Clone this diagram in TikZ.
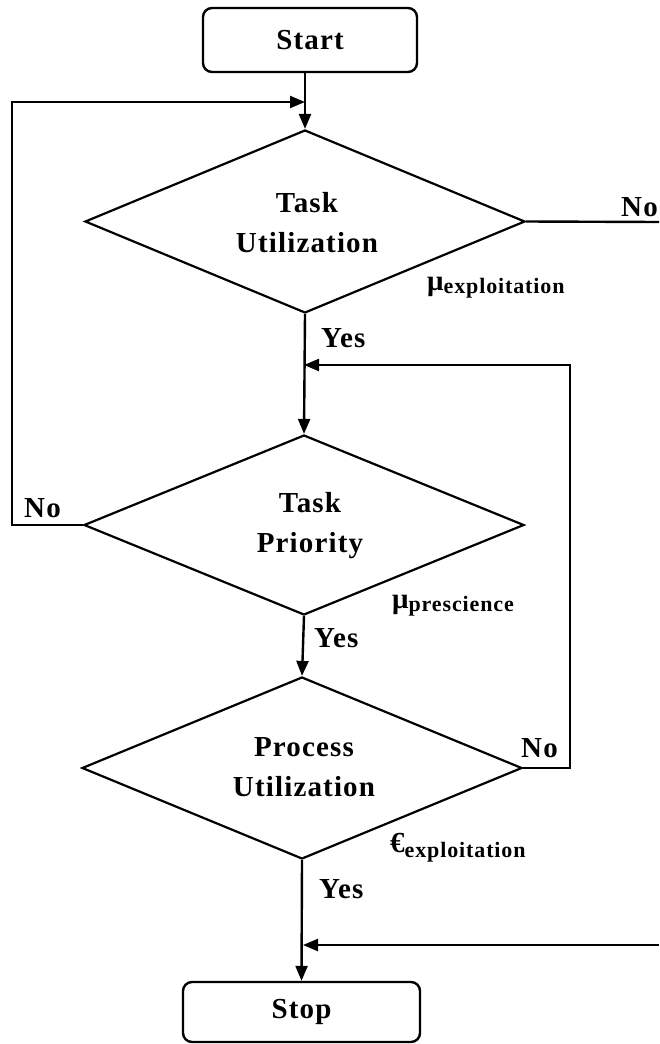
\documentclass[tikz,border=0pt]{standalone}
\usepackage{fontspec}
\setmainfont{Liberation Serif}[LetterSpace=4]
\usetikzlibrary{shapes.geometric,arrows.meta}
\begin{document}
\begin{tikzpicture}[x=1pt,y=-1pt,
  line width=2.4pt,
  >={Triangle[length=15pt,width=12pt]},
  every node/.style={font=\fontsize{29}{40}\selectfont\bfseries},
  termbox/.style={draw,rounded corners=9pt,inner sep=0pt},
  decision/.style={draw,diamond,inner sep=0pt,line width=2.2pt},
  dtext/.style={align=center,inner sep=0pt},
  lbl/.style={inner sep=0pt,anchor=base west}]
\useasboundingbox (0,0) rectangle (659,1044);

% terminals
\node[termbox,minimum width=214pt,minimum height=64pt] (start) at (310,40) {Start};
\node[termbox,minimum width=237pt,minimum height=60pt] (stop) at (301.5,1012) {Stop};

% decisions
\node[decision,minimum width=440pt,minimum height=183pt] (d1) at (305,221.5) {};
\node[decision,minimum width=440pt,minimum height=180pt] (d2) at (304,525) {};
\node[decision,minimum width=440pt,minimum height=182pt] (d3) at (302,768) {};
\node[dtext] (t1) at (307,223) {Task\\Utilization};
\node[dtext] (t2) at (310,526) {Task\\Priority};
\node[dtext] (t3) at (304,767) {Process\\Utilization};

% helper points of the loops
\coordinate (lft) at (12,102);
\coordinate (j2) at (304,365);
\coordinate (rgt) at (570,365);
\coordinate (noend) at (659,222);
\coordinate (inr) at (659,945);
\coordinate (j3) at (303,945);

% main flow
\draw[->] (start.south -| d1.north) -- (d1.north);
\draw[->] (d1.south) -- (d2.north);
\draw[->] (d2.south) -- (d3.north);
\draw[->] (d3.south) -- (stop.north);

% branches
\draw (d1.east) -- (noend);
\draw[->] (d2.west) -| (lft) -- (d1.north |- lft);
\draw[->] (d3.east) -| (rgt) -- (j2);
\draw[->] (inr) -- (j3);

% branch labels
\node[lbl] (no1) at (620,216) {No};
\node[lbl] (no2) at (23,517) {No};
\node[lbl] (no3) at (520,757) {No};
\node[lbl] (yes1) at (320,347) {Yes};
\node[lbl] (yes2) at (313,647) {Yes};
\node[lbl] (yes3) at (318,898) {Yes};

% parameters
\node[lbl] (p1) at (426,290) {μ\raisebox{-3pt}{\fontsize{22}{22}\selectfont\bfseries exploitation}};
\node[lbl] (p2) at (391,608) {μ\raisebox{-3pt}{\fontsize{22}{22}\selectfont\bfseries prescience}};
\node[lbl] (p3) at (389,852) {€\raisebox{-5pt}{\fontsize{22}{22}\selectfont\bfseries exploitation}};
\end{tikzpicture}
\end{document}
